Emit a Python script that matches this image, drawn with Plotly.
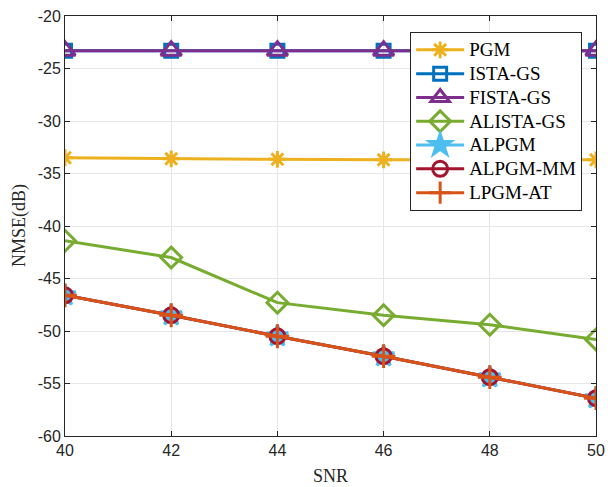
import plotly.graph_objects as go

snr = [40, 42, 44, 46, 48, 50]
pgm = [-33.5, -33.6, -33.65, -33.7, -33.7, -33.7]
ista_gs = [-23.3, -23.3, -23.3, -23.3, -23.3, -23.3]
fista_gs = [-23.3, -23.3, -23.3, -23.3, -23.3, -23.3]
alista_gs = [-41.4, -43.0, -47.3, -48.5, -49.4, -50.8]
alpgm = [-46.6, -48.5, -50.5, -52.4, -54.4, -56.4]
alpgm_mm = [-46.6, -48.5, -50.5, -52.4, -54.4, -56.4]
lpgm_at = [-46.6, -48.5, -50.5, -52.4, -54.4, -56.4]

x_ticks = [40, 42, 44, 46, 48, 50]
y_ticks = [-60, -55, -50, -45, -40, -35, -30, -25, -20]

series = [
    ("PGM", pgm, "#EDB120", "asterisk-open", 14),
    ("ISTA-GS", ista_gs, "#0072BD", "square-open", 13),
    ("FISTA-GS", fista_gs, "#7E2F8E", "triangle-up-open", 18),
    ("ALISTA-GS", alista_gs, "#77AC30", "diamond-open", 16),
    ("ALPGM", alpgm, "#4DBEEE", "star", 16),
    ("ALPGM-MM", alpgm_mm, "#A2142F", "circle-open", 15),
    ("LPGM-AT", lpgm_at, "#D95319", "cross-thin-open", 17),
]

fig = go.Figure()
for name, ys, color, sym, size in series:
    fig.add_trace(go.Scatter(
        x=snr, y=ys, name="<span style='font-size:19px'>%s</span>" % name,
        mode="lines+markers",
        line=dict(color=color, width=3),
        marker=dict(symbol=sym, size=size, color=color,
                    line=dict(color=color, width=3)),
    ))

axis_common = dict(
    showline=True, linecolor="#262626", linewidth=1, mirror="ticks",
    ticks="inside", ticklen=5, tickcolor="#262626",
    showgrid=True, gridcolor="#E6E6E6", gridwidth=1,
    zeroline=False, automargin=False,
    tickfont=dict(family="Liberation Sans, Arial", size=16, color="#262626"),
)

fig.update_xaxes(range=[40, 50], tickvals=x_ticks, ticktext=[str(v) for v in x_ticks],
                 **axis_common)
fig.update_yaxes(range=[-60, -20], tickvals=y_ticks, ticktext=[str(v) for v in y_ticks],
                 **axis_common)

title_font = dict(family="Liberation Serif, Times New Roman", size=18, color="#262626")
fig.add_annotation(text="SNR", x=0.5, y=0, xref="paper", yref="paper",
                   xanchor="center", yanchor="middle", yshift=-40, borderpad=0,
                   showarrow=False, font=title_font)
fig.add_annotation(text="NMSE(dB)", x=0, y=0.5, xref="paper", yref="paper",
                   xanchor="center", yanchor="middle", xshift=-46, textangle=-90,
                   borderpad=0, showarrow=False, font=title_font)

fig.update_layout(
    width=611, height=487,
    margin=dict(l=65, r=15, t=16, b=51, autoexpand=False),
    paper_bgcolor="white", plot_bgcolor="white",
    showlegend=True,
    legend=dict(
        x=0.650, y=0.962, xanchor="left", yanchor="top",
        bgcolor="white", bordercolor="#262626", borderwidth=1,
        font=dict(family="Liberation Serif, Times New Roman", size=16, color="black"),
        tracegroupgap=0, itemwidth=48,
    ),
)

fig.write_html("out.html")
